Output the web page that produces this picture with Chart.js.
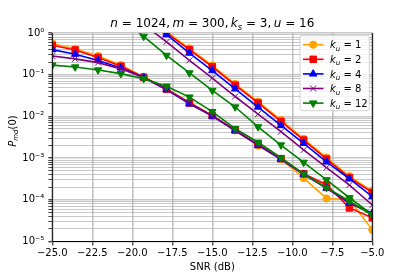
<!DOCTYPE html>
<html><head><meta charset="utf-8">
<script src="https://cdn.jsdelivr.net/npm/chart.js@4"></script>
<style>html,body{margin:0;padding:0;background:#fff}canvas{display:block}</style>
</head><body>
<canvas id="c" width="415" height="277"></canvas>
<script>
// ---- data ----
const snr = [-25, -23.57, -22.14, -20.71, -19.29, -17.86, -16.43, -15, -13.57, -12.14, -10.71, -9.29, -7.86, -6.43, -5];
const kuValues = ['1', '2', '4', '8', '12'];
const xTicks = [-25, -22.5, -20, -17.5, -15, -12.5, -10, -7.5, -5];
const yDecades = [-5, -4, -3, -2, -1, 0];

// lower (slowly decaying) curves
const ku1Low  = [0.56, 0.42, 0.28, 0.17, 0.088, 0.046, 0.022, 0.0106, 0.0046, 0.0020, 0.00095, 0.00033, 0.000108, 0.000100, 0.000019];
const ku2Low  = [0.51, 0.39, 0.26, 0.16, 0.087, 0.045, 0.021, 0.0104, 0.0047, 0.0021, 0.00097, 0.00042, 0.00023, 0.000064, 0.000037];
const ku4Low  = [0.40, 0.31, 0.22, 0.145, 0.086, 0.044, 0.020, 0.0102, 0.0046, 0.00205, 0.00094, 0.00041, 0.00019, 0.000083, 0.000048];
const ku8Low  = [0.28, 0.24, 0.195, 0.138, 0.086, 0.044, 0.021, 0.0103, 0.0046, 0.0021, 0.00095, 0.00041, 0.00019, 0.000085, 0.000046];
const ku12Low = [0.17, 0.153, 0.13, 0.106, 0.080, 0.053, 0.029, 0.013, 0.0051, 0.0024, 0.00102, 0.00042, 0.000195, 0.000094, 0.000042];

// steep curves
const ku1Steep  = [null, null, null, null, 2.8, 1.08, 0.43, 0.167, 0.060, 0.0227, 0.0082, 0.0029, 0.00103, 0.00037, 0.000162];
const ku2Steep  = [null, null, null, null, 2.6, 1.0, 0.40, 0.155, 0.056, 0.021, 0.0076, 0.0027, 0.00095, 0.00034, 0.00015];
const ku4Steep  = [null, null, null, null, 2.4, 0.91, 0.33, 0.126, 0.046, 0.0168, 0.0061, 0.00226, 0.00081, 0.00032, 0.000119];
const ku8Steep  = [null, null, null, null, 1.6, 0.61, 0.22, 0.083, 0.030, 0.0114, 0.0043, 0.00157, 0.00059, 0.000226, 0.000075];
const ku12Steep = [null, null, null, 2.3, 0.83, 0.29, 0.11, 0.042, 0.0168, 0.0056, 0.00206, 0.00079, 0.0003, 0.000112, 0.000044];

const lowSeries = [ku1Low, ku2Low, ku4Low, ku8Low, ku12Low];
const steepSeries = [ku1Steep, ku2Steep, ku4Steep, ku8Steep, ku12Steep];

// ---- styles ----
const styles = [
  {color: '#FFA500', pointStyle: 'circle', radius: 3.6, rotation: 0},
  {color: '#FF0000', pointStyle: 'rect', radius: 4.6, rotation: 0},
  {color: '#0000FF', pointStyle: 'triangle', radius: 4.3, rotation: 0},
  {color: '#800080', pointStyle: 'crossRot', radius: 4.2, rotation: 0},
  {color: '#008000', pointStyle: 'triangle', radius: 4.3, rotation: 180}
];
const FAM = '"DejaVu Sans", sans-serif';

function mkData(vals) { return snr.map((x, i) => ({x: x, y: vals[i]})); }

const datasets = [];
styles.forEach((s, i) => {
  [lowSeries[i], steepSeries[i]].forEach(vals => {
    datasets.push({
      data: mkData(vals),
      borderColor: s.color, backgroundColor: s.color,
      borderWidth: 1.6, pointStyle: s.pointStyle, pointRadius: s.radius,
      pointRotation: s.rotation, pointBorderWidth: 1,
      pointBackgroundColor: s.color, pointBorderColor: s.color,
      pointHoverRadius: s.radius, spanGaps: false, tension: 0,
      order: -i
    });
  });
});

function isDecade(v) { const l = Math.log10(v); return Math.abs(l - Math.round(l)) < 1e-9; }
const sup = {'0':'⁰','1':'¹','2':'²','3':'³','4':'⁴','5':'⁵','6':'⁶','7':'⁷','8':'⁸','9':'⁹','-':'⁻'};
function supStr(n) { return String(n).split('').map(c => sup[c]).join(''); }

function drawRich(ctx, segs, x, y, size, align) {
  const font = s => (s.it ? 'italic ' : '') + (s.sub ? size * 0.7 : size) + 'px ' + FAM;
  let w = 0;
  segs.forEach(s => { ctx.font = font(s); s.w = ctx.measureText(s.t).width; w += s.w; });
  let cx = align === 'center' ? x - w / 2 : x;
  ctx.textAlign = 'left'; ctx.textBaseline = 'alphabetic';
  segs.forEach(s => { ctx.font = font(s); ctx.fillText(s.t, cx, y + (s.sub ? size * 0.25 : 0)); cx += s.w; });
}

const deco = {
  id: 'deco',
  afterDraw(chart) {
    const ctx = chart.ctx, a = chart.chartArea;
    ctx.save();
    // spines
    ctx.strokeStyle = '#000'; ctx.lineWidth = 1;
    ctx.beginPath();
    ctx.moveTo(a.left, a.top); ctx.lineTo(a.left, a.bottom); ctx.lineTo(a.right, a.bottom); ctx.lineTo(a.right, a.top);
    ctx.stroke();
    ctx.fillStyle = '#000';
    // title
    const T = '\u2009';
    drawRich(ctx, [
      {t: 'n', it: 1}, {t: ' = 1024,' + T}, {t: 'm', it: 1}, {t: ' = 300,' + T},
      {t: 'k', it: 1}, {t: 's', it: 1, sub: 1}, {t: ' = 3,' + T}, {t: 'u', it: 1}, {t: ' = 16'}
    ], (a.left + a.right) / 2, 27, 12, 'center');
    // x label
    drawRich(ctx, [{t: 'SNR (dB)'}], (a.left + a.right) / 2, 270, 10, 'center');
    // y label
    ctx.save();
    ctx.translate(15.5, 131);
    ctx.rotate(-Math.PI / 2);
    drawRich(ctx, [{t: 'P', it: 1}, {t: 'md', it: 1, sub: 1}, {t: '(0)'}], 0, 0, 10, 'center');
    ctx.restore();
    // legend
    const bx = 300, by = 35.3, bw = 69.3, bh = 75.4, r = 2.5;
    ctx.beginPath();
    ctx.moveTo(bx + r, by); ctx.lineTo(bx + bw - r, by); ctx.arcTo(bx + bw, by, bx + bw, by + r, r);
    ctx.lineTo(bx + bw, by + bh - r); ctx.arcTo(bx + bw, by + bh, bx + bw - r, by + bh, r);
    ctx.lineTo(bx + r, by + bh); ctx.arcTo(bx, by + bh, bx, by + bh - r, r);
    ctx.lineTo(bx, by + r); ctx.arcTo(bx, by, bx + r, by, r); ctx.closePath();
    ctx.fillStyle = 'rgba(255,255,255,0.8)'; ctx.fill();
    ctx.strokeStyle = '#d0d0d0'; ctx.lineWidth = 1; ctx.stroke();
    styles.forEach((s, i) => {
      const y = by + 9.4 + i * 14.6;
      ctx.strokeStyle = s.color; ctx.lineWidth = 1.6;
      ctx.beginPath(); ctx.moveTo(303, y); ctx.lineTo(323.5, y); ctx.stroke();
      ctx.fillStyle = s.color; ctx.lineWidth = 1;
      Chart.helpers.drawPoint(ctx, {pointStyle: s.pointStyle, radius: s.radius, rotation: s.rotation, borderWidth: 1}, 313.2, y);
      ctx.fillStyle = '#000';
      drawRich(ctx, [{t: 'k', it: 1}, {t: 'u', it: 1, sub: 1}, {t: ' = ' + kuValues[i]}], 330, y + 3.6, 10, 'left');
    });
    ctx.restore();
  }
};

new Chart(document.getElementById('c'), {
  type: 'line',
  data: {datasets: datasets},
  plugins: [deco],
  options: {
    responsive: false, animation: false, devicePixelRatio: 1,
    layout: {padding: {top: 33, right: 42.7, left: 0, bottom: 0}},
    plugins: {legend: {display: false}, title: {display: false}, tooltip: {enabled: false}},
    elements: {line: {borderWidth: 1.6}},
    scales: {
      x: {
        type: 'linear', min: -25, max: -5,
        afterBuildTicks: sc => { sc.ticks = xTicks.map(v => ({value: v})); },
        afterFit: sc => { sc.height = 35.5; },
        ticks: {
          autoSkip: false, maxRotation: 0, padding: 2, color: '#000',
          font: {family: FAM, size: 10},
          callback: v => (v < 0 ? '\u2212' : '') + Math.abs(v).toFixed(1)
        },
        grid: {color: 'rgba(176,176,176,0.75)', lineWidth: 1.6, tickLength: 4, tickColor: '#000', tickWidth: 1},
        border: {display: false}
      },
      y: {
        type: 'logarithmic', min: 1e-5, max: 1,
        afterBuildTicks: sc => {
          const t = [];
          yDecades.forEach(d => { for (let m = 1; m <= 9; m++) { const v = m * Math.pow(10, d); if (v <= 1.0000001) t.push({value: v}); } });
          sc.ticks = t;
        },
        afterFit: sc => { sc.width = 52.3; },
        ticks: {
          autoSkip: false, padding: 4, color: '#000',
          font: {family: FAM, size: 10},
          callback: v => isDecade(v) ? '10' + supStr(Math.round(Math.log10(v))) : ''
        },
        grid: {
          color: c => isDecade(c.tick.value) ? 'rgba(176,176,176,0.7)' : 'rgba(176,176,176,0.7)',
          lineWidth: c => isDecade(c.tick.value) ? 1.6 : 1,
          tickLength: 4, tickColor: '#000',
          tickWidth: c => isDecade(c.tick.value) ? 1 : 0.7
        },
        border: {display: false}
      }
    }
  }
});
</script>
</body></html>
